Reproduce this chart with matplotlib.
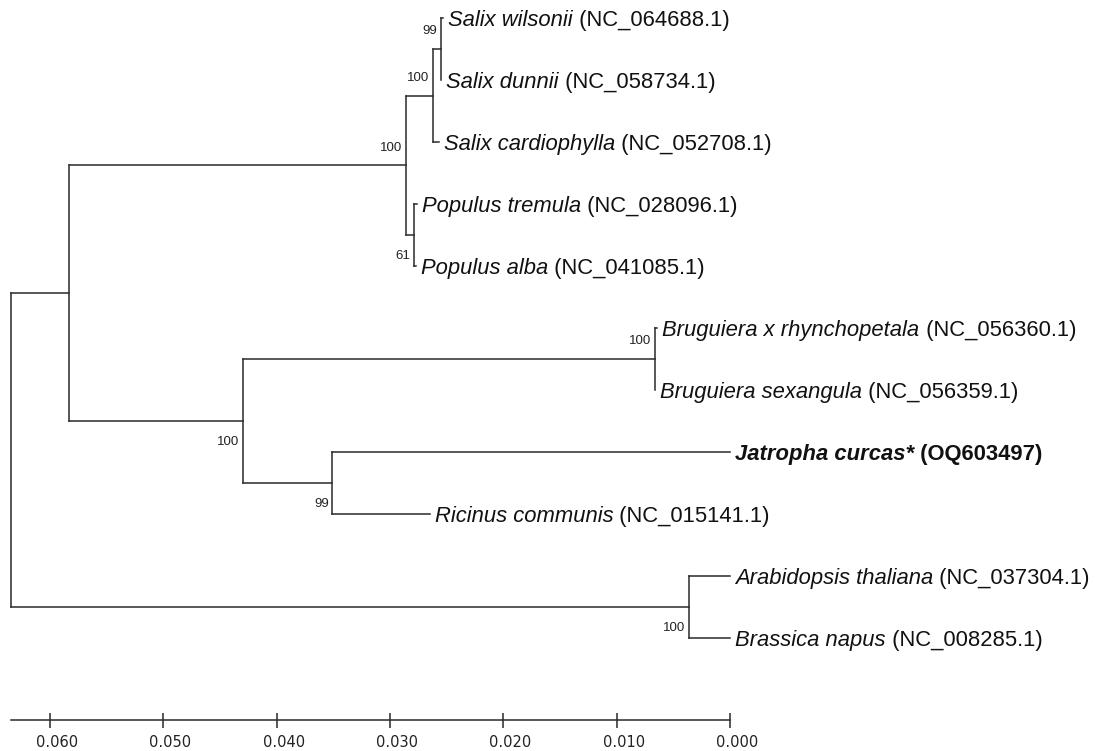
import matplotlib
matplotlib.use('Agg')
import matplotlib.pyplot as plt
from matplotlib.transforms import ScaledTranslation

# ---------------- data ----------------
# internal nodes: heights in substitution units (distance from the present, read off the scale)
node_names = ['root', 'n1', 'salicaceae', 'salix', 'salix_wd', 'populus',
              'malpighiales', 'bruguiera', 'euphorbiaceae', 'brassicaceae']
node_heights = [0.0634, 0.0583, 0.0286, 0.0262, 0.0255, 0.0279,
                0.0430, 0.0066, 0.0351, 0.0036]
node_parents = [None, 'root', 'n1', 'salicaceae', 'salix', 'salicaceae',
                'n1', 'malpighiales', 'malpighiales', 'root']
node_support = [None, None, 100, 100, 99, 61, 100, 100, 99, 100]

# leaves (top to bottom)
leaf_species = ['Salix wilsonii', 'Salix dunnii', 'Salix cardiophylla',
                'Populus tremula', 'Populus alba',
                'Bruguiera x rhynchopetala', 'Bruguiera sexangula',
                'Jatropha curcas*', 'Ricinus communis',
                'Arabidopsis thaliana', 'Brassica napus']
leaf_accessions = ['NC_064688.1', 'NC_058734.1', 'NC_052708.1',
                   'NC_028096.1', 'NC_041085.1',
                   'NC_056360.1', 'NC_056359.1',
                   'OQ603497', 'NC_015141.1',
                   'NC_037304.1', 'NC_008285.1']
leaf_heights = [0.0253, 0.0255, 0.0257, 0.0276, 0.0277,
                0.0064, 0.0066, 0.0000, 0.0265, 0.0000, 0.0000]
leaf_parents = ['salix_wd', 'salix_wd', 'salix', 'populus', 'populus',
                'bruguiera', 'bruguiera', 'euphorbiaceae', 'euphorbiaceae',
                'brassicaceae', 'brassicaceae']
highlight_species = 'Jatropha curcas*'

scale_ticks = [0.060, 0.050, 0.040, 0.030, 0.020, 0.010, 0.000]

# ---------------- style ----------------
support_side = ['', '', 'above', 'above', 'above', 'below', 'below', 'above', 'below', 'below']
LINE = '#2a2a2a'
LW = 1.1
LABEL_FONT = 'Liberation Sans'
LABEL_SIZE = 15.8

W, H, DPI = 1095, 751, 100
fig = plt.figure(figsize=(W / DPI, H / DPI), dpi=DPI)
fig.patch.set_facecolor('white')

# pixel mapping: 0.000 at x=730 px, 0.010 = 113.33 px; leaf rows 62 px apart from y=18
px_per_unit = 11333.0
x_zero_px = 730.0
xlim = (x_zero_px / px_per_unit, (x_zero_px - W) / px_per_unit)
row0, row_step = 18.0, 62.0
ylim = ((H - row0) / row_step, -row0 / row_step)

ax = fig.add_axes([0, 0, 1, 1])
ax.set_xlim(*xlim)
ax.set_ylim(*ylim)
ax.axis('off')

# ---------------- tree geometry ----------------
height = dict(zip(node_names, node_heights))
parent = dict(zip(node_names, node_parents))
children = {n: [] for n in node_names}
ypos = {}
for i, (sp, p) in enumerate(zip(leaf_species, leaf_parents)):
    children[p].append(sp)
    ypos[sp] = i
    height[sp] = leaf_heights[i]
    parent[sp] = p
for n, p in zip(node_names, node_parents):
    if p is not None:
        children[p].append(n)


def get_y(n):
    if n in ypos:
        return ypos[n]
    ys = [get_y(c) for c in children[n]]
    ypos[n] = (min(ys) + max(ys)) / 2.0
    return ypos[n]


get_y('root')

kw = dict(color=LINE, lw=LW, solid_capstyle='projecting')
for n in list(node_names) + list(leaf_species):
    p = parent[n]
    if p is not None:
        ax.plot([height[p], height[n]], [ypos[n], ypos[n]], **kw)
for n in node_names:
    ys = [ypos[c] for c in children[n]]
    ax.plot([height[n], height[n]], [min(ys), max(ys)], **kw)

# bootstrap values
for n, s, side in zip(node_names, node_support, support_side):
    if s is None:
        continue
    dy = 17.5 if side == 'above' else -21
    ax.annotate(str(s), xy=(height[n], ypos[n]), xytext=(-3.5, dy),
                textcoords='offset pixels', ha='right', va='center',
                fontsize=9.5, family=LABEL_FONT, color='#222222')

# leaf labels
for sp, acc in zip(leaf_species, leaf_accessions):
    bold = 'bold' if sp == highlight_species else 'normal'
    t = ax.annotate(sp, xy=(height[sp], ypos[sp]), xytext=(5, -8),
                    textcoords='offset pixels', ha='left', va='baseline',
                    fontsize=LABEL_SIZE, family=LABEL_FONT, style='italic',
                    fontweight=bold, color='#111111')
    ax.annotate(' (' + acc + ')', xy=(1, 0), xycoords=t, ha='left', va='bottom',
                fontsize=LABEL_SIZE, family=LABEL_FONT, fontweight=bold,
                color='#111111')

# ---------------- scale axis ----------------
axis_y_px = 720
ax2 = fig.add_axes([0, (H - axis_y_px) / H, 1, 20 / H])
ax2.set_facecolor('none')
ax2.set_xlim(*xlim)
ax2.set_ylim(0, 1)
for s in ['top', 'left', 'right']:
    ax2.spines[s].set_visible(False)
ax2.spines['bottom'].set_bounds(0.0, height['root'])
ax2.spines['bottom'].set_color(LINE)
ax2.spines['bottom'].set_linewidth(LW)
ax2.set_yticks([])
ax2.set_xticks(scale_ticks)
ax2.set_xticklabels(['%.3f' % v for v in scale_ticks])
ax2.tick_params(axis='x', direction='inout', length=10.8, width=LW,
                color=LINE, pad=5.4, labelsize=10.5, labelcolor='#222222')
shift = ScaledTranslation(7 / DPI, 0, fig.dpi_scale_trans)
for lbl in ax2.get_xticklabels():
    lbl.set_family('DejaVu Sans')
    lbl.set_transform(lbl.get_transform() + shift)

fig.savefig('out.png', dpi=DPI, facecolor='white')
